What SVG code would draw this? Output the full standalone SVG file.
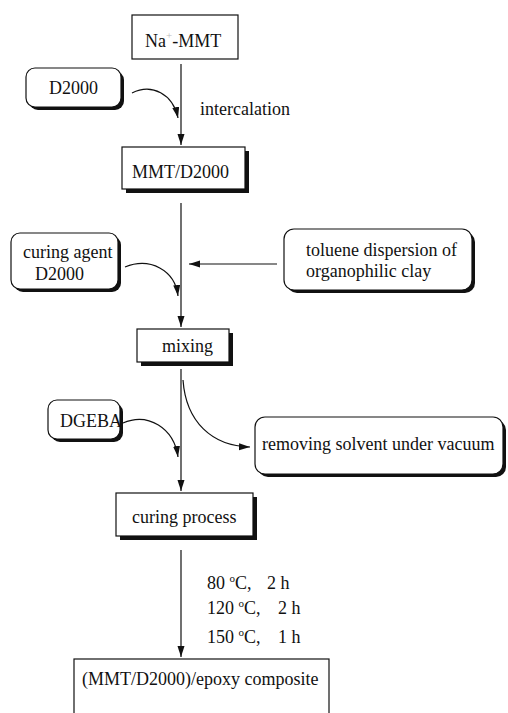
<svg xmlns="http://www.w3.org/2000/svg" width="508" height="713" viewBox="0 0 508 713">
<style>
text{font-family:"Liberation Serif","Times New Roman",serif;font-size:18px;fill:#111}
.box{fill:#fff;stroke:#111;stroke-width:1.2}
.sh{fill:#111}
.ln{fill:none;stroke:#111;stroke-width:1.2}
.sup{font-size:11px}
</style>
<defs>
<marker id="ah" markerUnits="userSpaceOnUse" markerWidth="12" markerHeight="8" refX="11" refY="3.5" orient="auto">
<path d="M0,0 L11,3.5 L0,7 Z" fill="#111"/>
</marker>
</defs>
<rect width="508" height="713" fill="#fff"/>
<g id="connectors">
<path class="ln" d="M181,64 L181,145" marker-end="url(#ah)"/>
<path class="ln" d="M181,203 L181,327" marker-end="url(#ah)"/>
<path class="ln" d="M277,264 L189,264" marker-end="url(#ah)"/>
<path class="ln" d="M181,369 L181,491" marker-end="url(#ah)"/>
<path class="ln" d="M181,550 L181,657" marker-end="url(#ah)"/>
<path class="ln" d="M132,93 C152,83 173,94 178,118" marker-end="url(#ah)"/>
<path class="ln" d="M125,267 C150,257 175,270 178,296" marker-end="url(#ah)"/>
<path class="ln" d="M123,423 C148,412 174,428 178,457" marker-end="url(#ah)"/>
<path class="ln" d="M183,380 C186,422 212,446 250,447" marker-end="url(#ah)"/>
<text x="200" y="115">intercalation</text>
<text x="207" y="589">80 <tspan class="sup" dy="-7">o</tspan><tspan dy="7">C,</tspan></text>
<text x="267" y="589">2 h</text>
<text x="207" y="614">120 <tspan class="sup" dy="-7">o</tspan><tspan dy="7">C,</tspan></text>
<text x="278" y="614">2 h</text>
<text x="207" y="643">150 <tspan class="sup" dy="-7">o</tspan><tspan dy="7">C,</tspan></text>
<text x="278" y="643">1 h</text>
</g>
<g id="na-mmt">
<rect class="box" x="132" y="15" width="106" height="44"/>
<text x="145" y="47">Na<tspan class="sup" dy="-8" fill="#bbb">+</tspan><tspan dy="8">-MMT</tspan></text>
</g>
<g id="d2000">
<rect class="sh" x="29" y="71" width="95" height="39" rx="9"/>
<rect class="box" x="26" y="68" width="95" height="39" rx="9"/>
<text x="73.5" y="94" text-anchor="middle">D2000</text>
</g>
<g id="mmt-d2000">
<rect class="sh" x="126" y="151" width="123" height="42"/>
<rect class="box" x="122" y="147" width="123" height="42"/>
<text x="132" y="178">MMT/D2000</text>
</g>
<g id="curing-agent">
<rect class="sh" x="14" y="236" width="107" height="56" rx="9"/>
<rect class="box" x="11" y="233" width="107" height="56" rx="9"/>
<text x="23" y="258">curing agent</text>
<text x="35" y="280">D2000</text>
</g>
<g id="toluene">
<rect class="sh" x="287" y="232" width="188" height="61" rx="10"/>
<rect class="box" x="284" y="229" width="188" height="61" rx="10"/>
<text x="306" y="256">toluene dispersion of</text>
<text x="306" y="277">organophilic clay</text>
</g>
<g id="mixing">
<rect class="sh" x="141" y="333" width="92" height="33"/>
<rect class="box" x="137" y="329" width="92" height="33"/>
<text x="162" y="352">mixing</text>
</g>
<g id="removing">
<rect class="sh" x="258" y="420" width="248" height="57" rx="10"/>
<rect class="box" x="255" y="417" width="248" height="57" rx="10"/>
<text x="262" y="450">removing solvent under vacuum</text>
</g>
<g id="dgeba">
<rect class="sh" x="51" y="403" width="72" height="39" rx="9"/>
<rect class="box" x="48" y="400" width="72" height="39" rx="9"/>
<text x="60" y="427">DGEBA</text>
</g>
<g id="curing-process">
<rect class="sh" x="120" y="497" width="137" height="43"/>
<rect class="box" x="116" y="493" width="137" height="43"/>
<text x="132" y="523">curing process</text>
</g>
<g id="composite">
<rect class="box" x="74" y="659" width="255" height="70"/>
<text x="82" y="685">(MMT/D2000)/epoxy composite</text>
</g>
</svg>
